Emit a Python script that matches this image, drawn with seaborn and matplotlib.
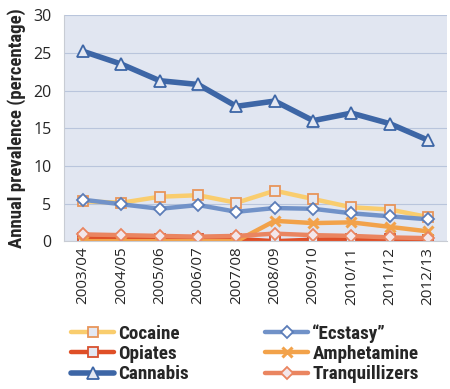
import matplotlib
matplotlib.use("Agg")
import matplotlib.pyplot as plt
import pandas as pd
import seaborn as sns

years = ["2003/04", "2004/05", "2005/06", "2006/07", "2007/08",
         "2008/09", "2009/10", "2010/11", "2011/12", "2012/13"]

cocaine = [5.3, 5.1, 5.9, 6.1, 5.1, 6.7, 5.6, 4.5, 4.2, 3.2]
ecstasy = [5.5, 4.9, 4.3, 4.8, 3.9, 4.4, 4.3, 3.7, 3.3, 2.9]
opiates = [0.4, 0.3, 0.3, 0.3, 0.3, 0.0, 0.2, 0.3, 0.3, 0.1]
amphetamine = [0.0, 0.0, 0.0, 0.0, 0.0, 2.7, 2.4, 2.5, 1.9, 1.3]
cannabis = [25.2, 23.5, 21.3, 20.8, 17.9, 18.6, 16.0, 17.0, 15.6, 13.4]
tranquillizers = [0.9, 0.8, 0.7, 0.6, 0.7, 1.0, 0.8, 0.7, 0.5, 0.4]

series = ["Cocaine", "\u201cEcstasy\u201d", "Opiates", "Amphetamine", "Cannabis", "Tranquillizers"]
values = [cocaine, ecstasy, opiates, amphetamine, cannabis, tranquillizers]

colors = {"Cocaine": "#F9CD6E", "\u201cEcstasy\u201d": "#7192C8", "Opiates": "#DF4F27",
          "Amphetamine": "#F2A24A", "Cannabis": "#3D66A6", "Tranquillizers": "#EA8560"}
markers = {"Cocaine": "s", "\u201cEcstasy\u201d": "D", "Opiates": "s",
           "Amphetamine": "x", "Cannabis": "^", "Tranquillizers": "D"}
mec = {"Cocaine": "#E8955A", "\u201cEcstasy\u201d": "#5C7DB8", "Opiates": "#D8502E",
       "Amphetamine": "#F2A24A", "Cannabis": "#3D66A6", "Tranquillizers": "#EA8560"}
mfc = {"Cocaine": "#E4E8F2", "\u201cEcstasy\u201d": "white", "Opiates": "#E4E8F2",
       "Amphetamine": "#F2A24A", "Cannabis": "#E4E8F2", "Tranquillizers": "#F3E6EA"}
msize = {"Cocaine": 7, "\u201cEcstasy\u201d": 6, "Opiates": 7,
         "Amphetamine": 7, "Cannabis": 8, "Tranquillizers": 6}

df = pd.DataFrame({"year": years * len(series),
                   "drug": [s for s in series for _ in years],
                   "value": [v for vals in values for v in vals]})
df["x"] = df["year"].map({y: i for i, y in enumerate(years)})

sns.set_style("white")
plt.rcParams["font.family"] = ["Open Sans", "DejaVu Sans"]
narrow = ["Roboto Condensed", "Roboto", "DejaVu Sans"]

fig = plt.figure(figsize=(4.5, 3.89), dpi=100)
ax = fig.add_axes([0.142, 0.38, 0.852, 0.581])
ax.set_facecolor("#E1E6F1")

for s in series:
    sub = df[df["drug"] == s]
    sns.lineplot(data=sub, x="x", y="value", ax=ax, color=colors[s],
                 lw=4 if s == "Cannabis" else 3.2, marker=markers[s],
                 markersize=msize[s], markeredgecolor=mec[s], markerfacecolor=mfc[s],
                 markeredgewidth=1.3 if markers[s] != "x" else 2.2, label=s, legend=False)

ax.set_xlim(-0.5, len(years) - 0.5)
ax.set_ylim(0, 30)
ax.set_yticks(range(0, 31, 5))
ax.set_xticks(range(len(years)))
ax.set_xticklabels(years, rotation=90, fontsize=11)
ax.tick_params(axis="y", labelsize=11.5, length=0, pad=9)
ax.tick_params(axis="x", length=0, pad=4)
ax.grid(axis="y", color="#B9C5DC", lw=0.8)
ax.set_axisbelow(True)
for side in ["top", "right"]:
    ax.spines[side].set_visible(False)
for side in ["left", "bottom"]:
    ax.spines[side].set_color("#C8CCD4")
ax.set_xlabel("")
ax.set_ylabel("Annual prevalence (percentage)", fontsize=13.5, fontweight="bold",
              family=narrow, labelpad=5)

handles, labels = ax.get_legend_handles_labels()
# column-major order so rows read left to right like the original
order = [0, 2, 4, 1, 3, 5]
fig.legend([handles[i] for i in order], [labels[i] for i in order],
           loc="upper left", bbox_to_anchor=(0.158, 0.167), ncol=2,
           frameon=False, prop={"size": 13.8, "weight": "bold", "family": narrow},
           borderpad=0, borderaxespad=0, handlelength=2.25, columnspacing=4.0,
           labelspacing=0.12, handletextpad=0.2)

fig.savefig("out.png", dpi=100)
